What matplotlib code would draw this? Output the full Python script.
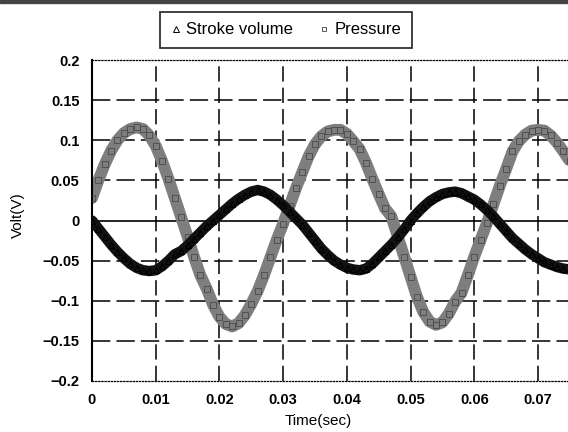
import matplotlib
matplotlib.use("Agg")
import matplotlib.pyplot as plt
from matplotlib.lines import Line2D
from matplotlib.patches import Rectangle
import numpy as np

# time in milliseconds (every 1 ms)
time_ms = list(range(0, 76))
pressure = [0.028, 0.050, 0.070, 0.087, 0.100, 0.109, 0.114, 0.116, 0.114, 0.106,
            0.093, 0.074, 0.052, 0.028, 0.004, -0.020, -0.045, -0.068, -0.085, -0.105,
            -0.120, -0.129, -0.132, -0.128, -0.118, -0.104, -0.088, -0.068, -0.046, -0.024,
            -0.004, 0.018, 0.040, 0.060, 0.080, 0.095, 0.105, 0.111, 0.113, 0.113,
            0.108, 0.099, 0.089, 0.072, 0.052, 0.033, 0.015, 0.005, -0.020, -0.045,
            -0.070, -0.095, -0.114, -0.126, -0.130, -0.127, -0.116, -0.101, -0.090, -0.068,
            -0.045, -0.024, -0.003, 0.020, 0.043, 0.064, 0.086, 0.099, 0.107, 0.112,
            0.113, 0.112, 0.106, 0.097, 0.086, 0.074]
stroke = [0.000, -0.010, -0.020, -0.030, -0.039, -0.047, -0.054, -0.059, -0.062, -0.063,
          -0.062, -0.057, -0.050, -0.042, -0.038, -0.031, -0.023, -0.015, -0.007, 0.000,
          0.007, 0.014, 0.021, 0.027, 0.032, 0.036, 0.038, 0.036, 0.032, 0.026,
          0.019, 0.011, 0.003, -0.005, -0.015, -0.025, -0.035, -0.043, -0.050, -0.055,
          -0.059, -0.061, -0.062, -0.060, -0.054, -0.046, -0.038, -0.030, -0.021, -0.011,
          0.000, 0.009, 0.017, 0.024, 0.029, 0.033, 0.035, 0.036, 0.034, 0.030,
          0.026, 0.020, 0.013, 0.005, -0.004, -0.013, -0.022, -0.029, -0.036, -0.042,
          -0.047, -0.052, -0.055, -0.058, -0.060, -0.061]

xticks = [0, 0.01, 0.02, 0.03, 0.04, 0.05, 0.06, 0.07]
xticklabels = ["0", "0.01", "0.02", "0.03", "0.04", "0.05", "0.06", "0.07"]
yticks = [0.2, 0.15, 0.1, 0.05, 0, -0.05, -0.1, -0.15, -0.2]
yticklabels = ["0.2", "0.15", "0.1", "0.05", "0", "\u22120.05", "\u22120.1", "\u22120.15", "\u22120.2"]

plt.rcParams['font.family'] = ['Liberation Sans', 'DejaVu Sans']

fig = plt.figure(figsize=(5.68, 4.32), dpi=100)
ax = fig.add_axes([92/568, 51/432, 476/568, 321/432])

t = np.array(time_ms) / 1000.0

# grid
dash = (0, (12, 4))
for yv in yticks[1:-1]:
    if yv == 0:
        ax.axhline(yv, color='black', lw=1.2, zorder=1)
    else:
        ax.axhline(yv, color='black', lw=1.1, ls=dash, zorder=1)
for xv in xticks[1:]:
    ax.axvline(xv, color='black', lw=1.1, ls=(0, (10, 4)), zorder=1)

# data
ax.plot(t, pressure, color='#7e7e7e', lw=8.5, zorder=2, solid_capstyle='round')
ax.plot(t, pressure, ls='none', marker='s', ms=4, mfc='none', mec='#4a4a4a', mew=0.6, zorder=3)
ax.plot(t, stroke, color='#111111', lw=7.5, zorder=4, solid_capstyle='round')
ax.plot(t, stroke, ls='none', marker='^', ms=5, mfc='none', mec='black', mew=0.8, zorder=5)

ax.set_xlim(0, 476 / 6371.0)
ax.set_ylim(-0.2, 0.2)
ax.set_xticks(xticks)
ax.set_xticklabels(xticklabels)
ax.set_yticks(yticks)
ax.set_yticklabels(yticklabels)
ax.tick_params(length=0, labelsize=10.5)
ax.tick_params(axis='y', pad=9)
ax.tick_params(axis='x', pad=9)
for lab in ax.get_xticklabels() + ax.get_yticklabels():
    lab.set_fontweight('bold')

ax.spines['right'].set_visible(False)
ax.spines['left'].set_linewidth(1.5)
ax.spines['left'].set_color('black')
for s in ['top', 'bottom']:
    ax.spines[s].set_linestyle((0, (1, 1.5)))
    ax.spines[s].set_linewidth(0.9)
    ax.spines[s].set_color('black')

fig.text(18/568, 1 - 215/432, "Volt(V)", rotation=90, ha='center', va='center',
         fontsize=11)
fig.text(318/568, 1 - 421/432, "Time(sec)", ha='center', va='center',
         fontsize=11)

handles = [Line2D([], [], ls='none', marker='^', ms=4, mfc='none', mec='black', mew=0.7),
           Line2D([], [], ls='none', marker='s', ms=3.5, mfc='none', mec='#555555', mew=0.7)]
leg = fig.legend(handles, ["Stroke volume", "Pressure"], ncol=2,
                 loc='center', bbox_to_anchor=(286/568, 1 - 30/432),
                 fontsize=12, frameon=True, fancybox=False, handlelength=0.6,
                 handletextpad=0.3, columnspacing=1.6, borderpad=0.65)
leg.get_frame().set_edgecolor('black')
leg.get_frame().set_linewidth(1.3)

fig.patches.append(Rectangle((0, 1 - 3/432), 1, 3/432, transform=fig.transFigure,
                             color='#444444', zorder=0))

fig.savefig("out.png", dpi=100)
